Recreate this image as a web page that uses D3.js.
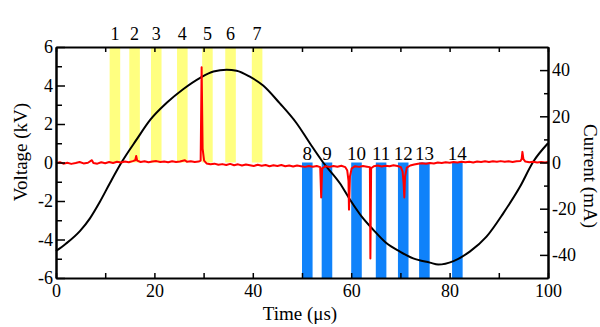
<!DOCTYPE html>
<html lang="en">
<head>
    <meta charset="UTF-8">
    <title>Voltage and current</title>
    <script src="https://d3js.org/d3.v7.min.js"></script>
    <style>
        body { margin: 0; background: #fff; }
        svg { display: block; }
        text { font-family: "Liberation Serif", "Times New Roman", serif; fill: #000; }
        .axis path, .axis line { stroke: #000; }
        .axis path { stroke-width: 2; }
        .axis line { stroke-width: 1.5; }
    </style>
</head>
<body>
    <div id="chart"></div>

    <script>
        // pulse windows (start time in us), yellow = positive half, blue = negative half
        const yellowStart = [10.9, 14.9, 19.3, 24.6, 29.7, 34.4, 39.8];
        const yellowLabels = ["1", "2", "3", "4", "5", "6", "7"];
        const blueStart = [50.0, 54.0, 60.0, 65.0, 69.5, 73.8, 80.5];
        const blueLabels = ["8", "9", "10", "11", "12", "13", "14"];
        const windowWidth = 2.15;

        // applied voltage, [time us, kV]
        const voltageTrace = [
            [0, -4.6], [2, -4.22], [4.9, -3.55], [6.9, -2.9], [8.9, -2.05], [11, -1.05],
            [13.3, 0], [16.4, 1.2], [19.1, 2.2], [22.5, 3.1], [25.9, 3.82], [29.3, 4.4],
            [32, 4.73], [34.7, 4.82], [36.7, 4.77], [39.4, 4.46], [42.1, 4.0], [45.5, 3.07],
            [48.9, 2.04], [51.6, 1.0], [54.3, 0], [57.7, -1.08], [59.8, -1.95], [62.1, -2.8],
            [64.5, -3.5], [67.2, -4.2], [69.9, -4.63], [72.6, -4.98], [76, -5.2], [77.7, -5.3],
            [80.8, -5.12], [84.1, -4.63], [87.5, -3.85], [90.9, -2.64], [94.3, -1.26],
            [97, 0.04], [100, 1.0]
        ];

        // discharge current, [time us, mA]
        const currentTrace = [
            [0, -0.3], [0.8, 0.1], [1.5, -0.5], [2.3, -0.1], [3.1, -0.6], [4, -0.2], [4.8, 0.2],
            [5.6, -0.4], [6.5, -0.1], [7.3, 1.0], [7.6, -0.2], [8.4, -0.5], [9.2, 0.1], [10, -0.3],
            [10.8, 0.2], [11.6, -0.2], [12.4, 0.3], [13.2, 0.0], [14, 0.4], [14.8, 0.1], [15.6, 0.6],
            [16.1, 1.0], [16.3, 2.8], [16.5, 0.8], [17.2, 0.2], [18, 0.5], [18.8, 0.1], [19.6, 0.4],
            [20.4, 0.6], [21.2, 0.2], [22, 0.4], [22.8, 0.1], [23.6, 0.5], [24.4, 0.2], [25.2, 0.4],
            [26.2, 1.0], [26.6, 0.3], [27.4, 0.5], [28.2, 0.2], [29, 0.4], [29.4, 0.8], [29.6, 41.2],
            [29.8, 6], [30.1, 0.8], [30.6, -0.4], [31.4, -0.8], [32.2, -0.5], [33, -1.0], [33.8, -0.7],
            [34.6, -1.1], [35.4, -0.6], [36.2, -1.2], [37, -0.8], [37.8, -1.3], [38.6, -0.9],
            [39.4, -1.2], [40.2, -1.5], [41, -1.0], [41.8, -1.4], [42.6, -1.1], [43.4, -1.6],
            [44.2, -1.2], [45, -1.5], [45.8, -1.1], [46.6, -1.6], [47.4, -1.3], [48.2, -1.7],
            [49, -1.3], [49.8, -1.6], [50.6, -1.9], [51.4, -1.5], [52.2, -1.8], [53, -1.5],
            [53.7, -2.0], [53.9, -15.1], [54.1, -2.5], [54.8, -1.6], [55.6, -1.9], [56.4, -1.5],
            [57.2, -1.8], [58, -1.4], [58.8, -2.0], [59.2, -3.5], [59.45, -8], [59.55, -20.4],
            [59.75, -6], [60.1, -2.5], [60.8, -1.6], [61.6, -1.9], [62.4, -1.5], [63.2, -1.8],
            [63.8, -2.0], [63.9, -41.6], [64.05, -2.5], [64.6, -1.6], [65.4, -1.3], [66.2, -1.7],
            [67, -1.4], [67.8, -1.6], [68.6, -1.2], [69.4, -1.5], [70.1, -2.0], [70.45, -4],
            [70.65, -9], [70.8, -15.1], [70.95, -6], [71.3, -2.2], [72, -1.3], [72.8, -0.9],
            [73.6, -0.5], [74.4, -0.3], [75.2, -0.5], [76, -0.2], [76.8, -0.4], [77.6, 0.0],
            [78.4, -0.2], [79.2, 0.1], [80, -0.1], [80.8, 0.2], [81.6, 0.0], [82.4, 0.3], [83.2, 0.1],
            [84, 0.3], [84.8, 0.0], [85.6, 0.4], [86.4, 0.2], [87.2, 0.5], [88, 0.2], [88.8, 0.5],
            [89.6, 0.3], [90.4, 0.6], [91.2, 0.3], [92, 0.5], [92.8, 0.2], [93.6, 0.5], [94.4, 0.6],
            [94.65, 1.5], [94.8, 4.6], [95, 1.5], [95.4, 0.4], [96.2, 0.1], [97, 0.3], [97.8, 0.0],
            [98.6, 0.2], [99.4, 0.0], [100, 0.2]
        ];

        const xTicks = [0, 20, 40, 60, 80, 100];
        const voltTicks = [-6, -4, -2, 0, 2, 4, 6];
        const currentTicks = [-40, -20, 0, 20, 40];

        const width = 600, height = 327;
        const margin = { top: 47, right: 52, bottom: 49, left: 56 };

        const svg = d3.select("#chart").append("svg")
            .attr("width", width)
            .attr("height", height);

        const x = d3.scaleLinear().domain([0, 100]).range([margin.left, width - margin.right]);
        const yV = d3.scaleLinear().domain([-6, 6]).range([height - margin.bottom, margin.top]);
        const yI = d3.scaleLinear().domain([-50, 50]).range([height - margin.bottom, margin.top]);

        // windows
        svg.append("g").selectAll("rect")
            .data(yellowStart)
            .enter().append("rect")
            .attr("x", d => x(d))
            .attr("width", d => x(d + windowWidth) - x(d))
            .attr("y", yV(6) + 1)
            .attr("height", yV(0) - yV(6) - 1)
            .attr("fill", "#ffff80");

        svg.append("g").selectAll("rect")
            .data(blueStart)
            .enter().append("rect")
            .attr("x", d => x(d))
            .attr("width", d => x(d + windowWidth) - x(d))
            .attr("y", yV(0))
            .attr("height", yV(-6) - yV(0))
            .attr("fill", "#0f82fa");

        svg.append("g").selectAll("text")
            .data(yellowStart)
            .enter().append("text")
            .attr("x", d => x(d + windowWidth / 2))
            .attr("y", 40)
            .attr("text-anchor", "middle")
            .style("font-size", "18px")
            .text((d, i) => yellowLabels[i]);

        svg.append("g").selectAll("text")
            .data(blueStart)
            .enter().append("text")
            .attr("x", d => x(d + windowWidth / 2))
            .attr("y", 160)
            .attr("text-anchor", "middle")
            .style("font-size", "19px")
            .text((d, i) => blueLabels[i]);

        // traces
        const vLine = d3.line()
            .x(d => x(d[0]))
            .y(d => yV(d[1]))
            .curve(d3.curveMonotoneX);

        svg.append("path")
            .datum(voltageTrace)
            .attr("d", vLine)
            .attr("fill", "none")
            .attr("stroke", "#000")
            .attr("stroke-width", 2);

        const iLine = d3.line()
            .x(d => x(d[0]))
            .y(d => yI(d[1]));

        svg.append("path")
            .datum(currentTrace)
            .attr("d", iLine)
            .attr("fill", "none")
            .attr("stroke", "#ff0000")
            .attr("stroke-width", 2)
            .attr("stroke-linejoin", "round");

        // axes, ticks pointing inward
        const fmt = d => String(d);
        const bottom = height - margin.bottom;
        const right = width - margin.right;

        function styleAxis(g) {
            g.attr("font-family", null).attr("font-size", null);
            g.selectAll("text")
                .style("font-family", "'Liberation Serif', 'Times New Roman', serif")
                .style("font-size", "18px");
        }

        svg.append("g").attr("class", "axis")
            .attr("transform", `translate(0,${bottom})`)
            .call(d3.axisBottom(x).tickValues(d3.range(0, 101, 10))
                .tickSize(-5).tickSizeOuter(0).tickPadding(6)
                .tickFormat(d => xTicks.includes(d) ? fmt(d) : ""))
            .call(styleAxis);

        svg.append("g").attr("class", "axis")
            .attr("transform", `translate(0,${margin.top})`)
            .call(d3.axisTop(x).tickValues(d3.range(0, 101, 10))
                .tickSize(-5).tickSizeOuter(0).tickFormat(""));

        svg.append("g").attr("class", "axis")
            .attr("transform", `translate(${margin.left},0)`)
            .call(d3.axisLeft(yV).tickValues(d3.range(-5, 6, 2))
                .tickSize(-6).tickSizeOuter(0).tickFormat(""));

        svg.append("g").attr("class", "axis")
            .attr("transform", `translate(${margin.left},0)`)
            .call(d3.axisLeft(yV).tickValues(voltTicks)
                .tickSize(-9).tickSizeOuter(0).tickPadding(3).tickFormat(fmt))
            .call(styleAxis);

        svg.append("g").attr("class", "axis")
            .attr("transform", `translate(${right},0)`)
            .call(d3.axisRight(yI).tickValues([-30, -10, 10, 30])
                .tickSize(-4).tickSizeOuter(0).tickFormat(""));

        svg.append("g").attr("class", "axis")
            .attr("transform", `translate(${right},0)`)
            .call(d3.axisRight(yI).tickValues(currentTicks)
                .tickSize(-8).tickSizeOuter(0).tickPadding(4).tickFormat(fmt))
            .call(styleAxis);

        // axis titles
        svg.append("text")
            .attr("x", 300)
            .attr("y", 320)
            .attr("text-anchor", "middle")
            .style("font-size", "19px")
            .text("Time (\u03bcs)");

        svg.append("text")
            .attr("transform", "translate(27,152) rotate(-90)")
            .attr("text-anchor", "middle")
            .style("font-size", "19px")
            .text("Voltage (kV)");

        svg.append("text")
            .attr("transform", "translate(584,176) rotate(90)")
            .attr("text-anchor", "middle")
            .style("font-size", "19px")
            .text("Current (mA)");
    </script>
</body>
</html>
